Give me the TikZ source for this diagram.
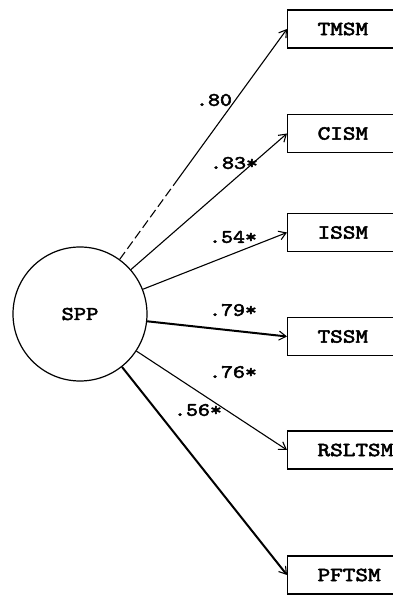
\documentclass[tikz,border=0pt]{standalone}
\usepackage{fontspec}
\newfontfamily\twfont{lmmono10-regular.otf}[FakeBold=2.5]
\usetikzlibrary{arrows.meta,calc}
\newcommand{\twtext}[1]{\scalebox{1.2}[1]{#1}}
\tikzset{
  mbox/.style={draw, line width=1.3pt, anchor=west, minimum height=38pt,
    text width=100pt, inner xsep=30pt, align=left,
    font=\twfont\fontsize{20}{22}\selectfont},
  lat/.style={draw, circle, line width=1.2pt, minimum size=134pt, inner sep=0pt,
    font=\twfont\fontsize{19.5}{21}\selectfont},
  path/.style={line width=1.1pt, -{Straight Barb[length=7pt,width=9pt,line width=1.1pt]}},
  heavy/.style={line width=2pt},
  coef/.style={font=\twfont\fontsize{19}{20}\selectfont, inner sep=1pt}
}
\begin{document}
\begin{tikzpicture}[x=1pt,y=1pt]
\useasboundingbox (0,0) rectangle (393,600);
\clip (0,0) rectangle (393,600);
\node[lat] (spp) at (80,286) {\twtext{SPP}};
\node[mbox] (tm) at (287,571) {\twtext{TMSM}};
\node[mbox] (ci) at (287,466.5) {\twtext{CISM}};
\node[mbox] (is) at (287,367.5) {\twtext{ISSM}};
\node[mbox] (ts) at (287,263.5) {\twtext{TSSM}};
\node[mbox] (rs) at (287,150) {\twtext{RSLTSM}};
\node[mbox] (pf) at (287,25) {\twtext{PFTSM}};
\coordinate (tmmid) at ($(spp)!0.45!(tm.west)$);
\draw[line width=1.1pt, dash pattern=on 9pt off 4pt] (spp) -- (tmmid);
\draw[path] (tmmid) -- (tm.west);
\draw[path] (spp) -- (ci.west);
\draw[path] (spp) -- (is.west);
\draw[path, heavy] (spp) -- (ts.west);
\draw[path] (spp) -- (rs.west);
\draw[path, heavy] (spp) -- (pf.west);
\node[coef] (l1) at (214,500) {\twtext{.80}};
\node[coef] (l2) at (234,437) {\twtext{.83*}};
\node[coef] (l3) at (233,363) {\twtext{.54*}};
\node[coef] (l4) at (233,290) {\twtext{.79*}};
\node[coef] (l5) at (233,228) {\twtext{.76*}};
\node[coef] (l6) at (198,190) {\twtext{.56*}};
\end{tikzpicture}
\end{document}
